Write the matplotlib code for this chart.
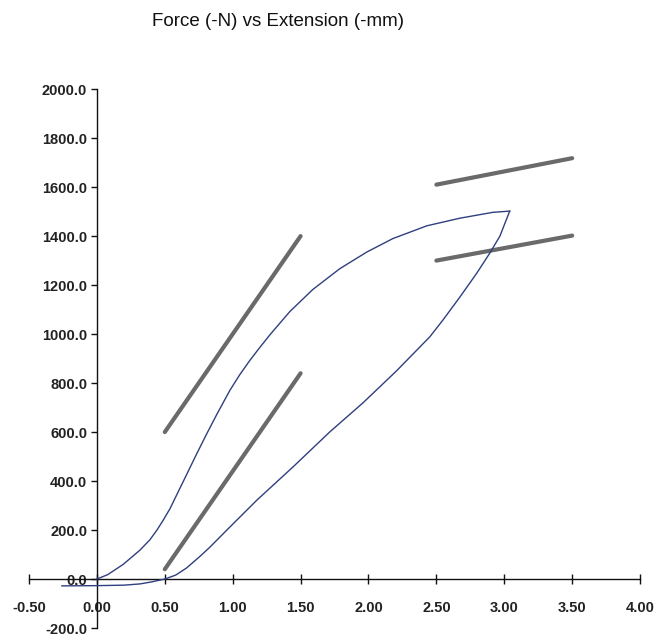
import matplotlib.pyplot as plt
import numpy as np

plt.rcParams['font.family'] = ['Liberation Sans', 'DejaVu Sans']

# loading branch (extension mm, force N)
load_x = [0.0, 0.08, 0.194, 0.317, 0.390, 0.440, 0.488, 0.538, 0.611, 0.734,
          0.808, 0.881, 0.979, 1.053, 1.127, 1.188, 1.274, 1.421, 1.59, 1.789,
          1.988, 2.18, 2.43, 2.673, 2.916, 3.04]
load_y = [0, 18, 60, 118, 160, 198, 240, 287, 370, 510,
          592, 670, 770, 835, 893, 937, 997, 1092, 1182, 1267,
          1335, 1390, 1442, 1473, 1497, 1502]

# unloading branch
unload_x = [3.04, 2.968, 2.894, 2.798, 2.673, 2.548, 2.452, 2.207, 1.961, 1.716,
            1.443, 1.178, 0.957, 0.832, 0.758, 0.66, 0.58, 0.5, 0.4, 0.317,
            0.2, 0.0, -0.258]
unload_y = [1502, 1400, 1331, 1249, 1151, 1057, 989, 850, 720, 601,
            457, 322, 200, 130, 92, 45, 16, 0, -12, -20,
            -25, -27, -28]

# straight grey reference lines: (x0, x1), (y0, y1)
ref_x = [(0.5, 1.5), (0.5, 1.5), (2.5, 3.5), (2.5, 3.5)]
ref_y = [(600, 1400), (40, 840), (1610, 1718), (1300, 1402)]

x_ticks = np.arange(-0.5, 4.01, 0.5)
y_ticks = np.arange(-200, 2001, 200)

fig = plt.figure(figsize=(6.7, 6.37), dpi=100)
ax = fig.add_axes([0.0433, 0.0141, 0.912, 0.846])

for xs, ys in zip(ref_x, ref_y):
    ax.plot(xs, ys, color='#6a6a6a', lw=3.0, solid_capstyle='round', zorder=2)

ax.plot(load_x, load_y, color='#2f3f7f', lw=1.0, zorder=3)
ax.plot(unload_x, unload_y, color='#2f3f7f', lw=1.0, zorder=3)

ax.set_xlim(-0.5, 4.0)
ax.set_ylim(-200, 2000)

ax.spines['left'].set_position(('data', 0))
ax.spines['bottom'].set_position(('data', 0))
ax.spines['top'].set_visible(False)
ax.spines['right'].set_visible(False)
for s in ('left', 'bottom'):
    ax.spines[s].set_linewidth(1.0)
    ax.spines[s].set_color('#111111')

ax.set_xticks(x_ticks)
ax.set_xticklabels([f"{v:.2f}" for v in x_ticks])
ax.set_yticks(y_ticks)
ax.set_yticklabels([f"{v:.1f}" for v in y_ticks])

ax.tick_params(axis='x', direction='inout', length=7, width=1, pad=12,
               labelsize=10.5, colors='#111111')
ax.tick_params(axis='y', direction='out', length=4, width=1, pad=3,
               labelsize=10.5, colors='#111111')
for lab in ax.get_xticklabels() + ax.get_yticklabels():
    lab.set_fontweight('bold')
    lab.set_color('#222222')

fig.text(0.415, 0.967, "Force (-N) vs Extension (-mm)", ha='center', va='center',
         fontsize=13.5, color='#111111')

fig.savefig('out.png', dpi=100)
